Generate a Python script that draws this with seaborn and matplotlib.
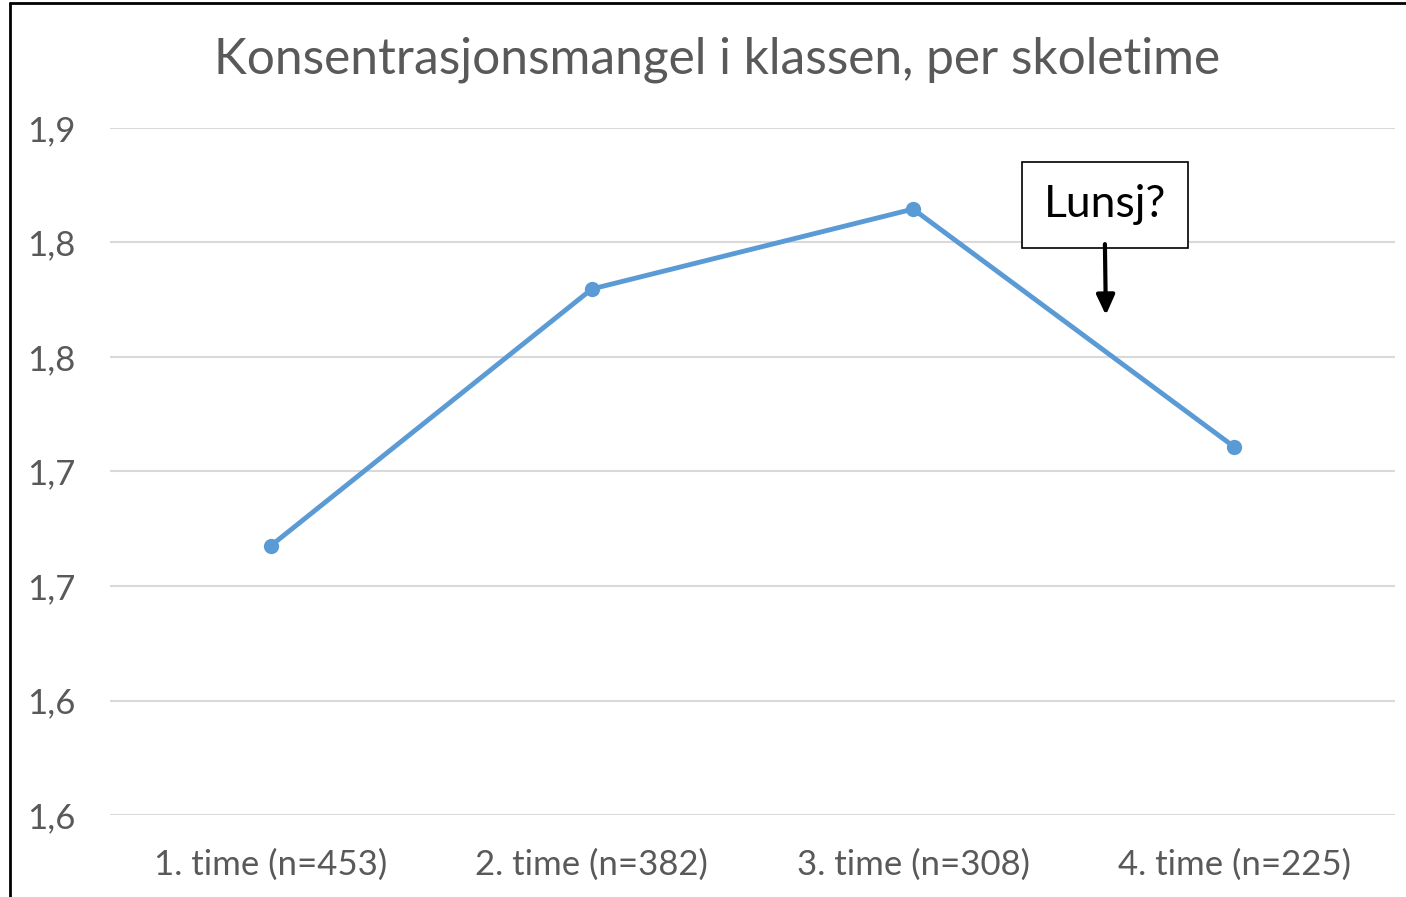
import matplotlib
matplotlib.use("Agg")
import matplotlib.pyplot as plt
import seaborn as sns
from matplotlib.lines import Line2D

categories = ["1. time (n=453)", "2. time (n=382)", "3. time (n=308)", "4. time (n=225)"]
values = [1.7175, 1.8297, 1.8646, 1.7607]
ytick_vals = [1.60, 1.65, 1.70, 1.75, 1.80, 1.85, 1.90]
ytick_labels = ["1,6", "1,6", "1,7", "1,7", "1,8", "1,8", "1,9"]

sns.set_style("white")
plt.rcParams["font.family"] = ["Lato", "DejaVu Sans"]

W, H = 1406, 897
fig = plt.figure(figsize=(W / 100, H / 100), dpi=100)
ax = fig.add_axes([110 / W, (H - 815) / H, (1395 - 110) / W, (815 - 128) / H])

sns.lineplot(x=categories, y=values, marker="o", sort=False, color="#5B9BD5",
             linewidth=3.5, markersize=11, markeredgewidth=0, ax=ax)

ax.set_xlim(-0.5, 3.5)
ax.set_ylim(1.60, 1.90)
ax.set_yticks(ytick_vals)
ax.set_yticklabels(ytick_labels)
ax.set_xlabel("")
ax.set_ylabel("")
ax.grid(axis="y", color="#D9D9D9", linewidth=1.5)
ax.set_axisbelow(True)
for s in ax.spines.values():
    s.set_visible(False)
ax.tick_params(axis="both", length=0, labelsize=25, labelcolor="#595959")
ax.tick_params(axis="y", pad=25)
ax.tick_params(axis="x", pad=24)

fig.text(717 / W, 1 - 60 / H, "Konsentrasjonsmangel i klassen, per skoletime",
         ha="center", va="center", fontsize=35.7, color="#595959")

# annotation box + arrow
ax.text(2.597, 1.8664, "Lunsj?", ha="center", va="center", fontsize=32, color="black",
        bbox=dict(boxstyle="square,pad=0.5", facecolor="white", edgecolor="black", linewidth=1.2))
ax.annotate("", xy=(2.6, 1.8183), xytext=(2.597, 1.8493),
            arrowprops=dict(arrowstyle="-|>,head_width=0.55,head_length=1.2",
                            color="black", lw=3, shrinkA=0, shrinkB=0))

# outer frame (left and top edges)
fig.add_artist(Line2D([10 / W, 10 / W], [0, 1 - 3 / H], color="black", lw=2, transform=fig.transFigure))
fig.add_artist(Line2D([10 / W, 1], [1 - 3 / H, 1 - 3 / H], color="black", lw=2, transform=fig.transFigure))

fig.savefig("out.png", dpi=100, facecolor="white")
